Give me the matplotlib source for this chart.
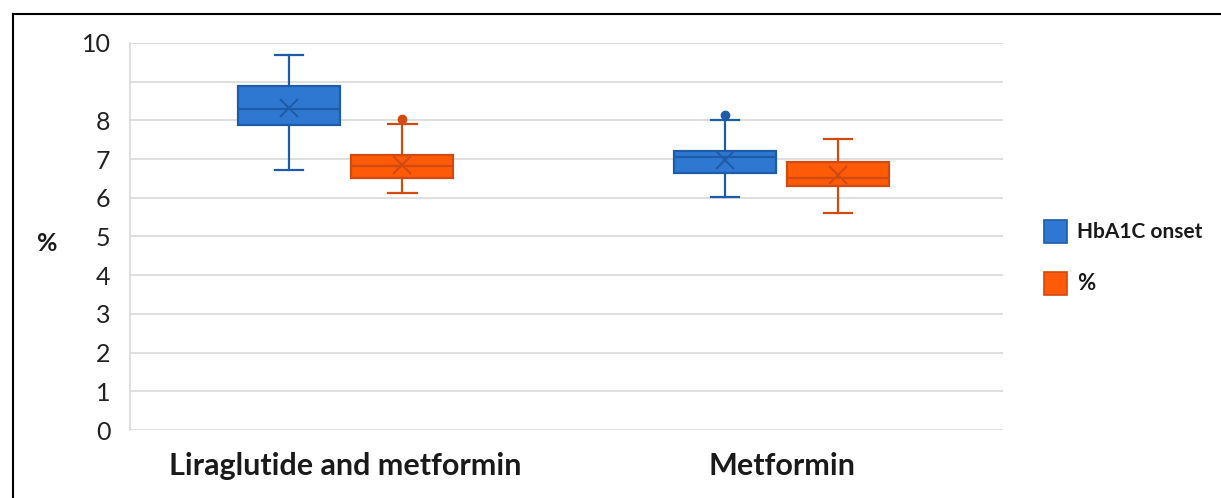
import matplotlib
matplotlib.use("Agg")
import matplotlib.pyplot as plt
from matplotlib.patches import Rectangle
from matplotlib.lines import Line2D

plt.rcParams['font.family'] = ['Lato', 'DejaVu Sans']

# ---- data ----
categories = ["Liraglutide and metformin", "Metformin"]
series_names = ["HbA1C onset", "%"]
# per series, per category: [whislo, q1, med, q3, whishi]
hba1c_five = [[6.71, 7.89, 8.30, 8.90, 9.69],
              [6.01, 6.64, 7.05, 7.21, 8.00]]
pct_five = [[6.12, 6.50, 6.82, 7.11, 7.90],
            [5.62, 6.30, 6.52, 6.92, 7.51]]
hba1c_mean = [8.33, 6.98]
pct_mean = [6.85, 6.59]
hba1c_fliers = [[], [8.14]]
pct_fliers = [[8.03], []]
ytick_vals = [0, 1, 2, 3, 4, 5, 6, 7, 8, 10]
ytick_labels = ["0", "1", "2", "3", "4", "5", "6", "7", "8", "10"]

fills = ["#2E78D2", "#FF5A08"]
edges = ["#1F5CA8", "#D04A12"]

W, H = 1221, 498
fig = plt.figure(figsize=(W / 100, H / 100), dpi=100)
ax = fig.add_axes([130 / W, (H - 430) / H, (1003 - 130) / W, (430 - 43) / H])

offset = 0.13
bw = 0.234
capw = 0.065
for s, (five, means, fliers) in enumerate([(hba1c_five, hba1c_mean, hba1c_fliers),
                                           (pct_five, pct_mean, pct_fliers)]):
    stats = []
    for c in range(len(categories)):
        lo, q1, med, q3, hi = five[c]
        stats.append(dict(whislo=lo, q1=q1, med=med, q3=q3, whishi=hi,
                          mean=means[c], fliers=fliers[c]))
    pos = [c + (offset if s else -offset) for c in range(len(categories))]
    ax.bxp(stats, positions=pos, widths=bw, capwidths=capw, patch_artist=True,
           showmeans=True, showfliers=True,
           boxprops=dict(facecolor=fills[s], edgecolor=edges[s], linewidth=1.6),
           medianprops=dict(color=edges[s], linewidth=1.6),
           whiskerprops=dict(color=edges[s], linewidth=1.6),
           capprops=dict(color=edges[s], linewidth=1.6),
           meanprops=dict(marker='x', markeredgecolor=edges[s], markersize=13,
                          markeredgewidth=1.5, linestyle='none'),
           flierprops=dict(marker='o', markerfacecolor=edges[s],
                           markeredgecolor=edges[s], markersize=6))

ax.set_xlim(-0.495, 1.508)
ax.set_ylim(0, 10)
ax.set_yticks(range(0, 11))
ax.set_yticklabels([ytick_labels[ytick_vals.index(v)] if v in ytick_vals else "" for v in range(11)],
                   fontsize=18, color="#222222")
ax.tick_params(axis='y', length=0, pad=14)
ax.set_xticks(range(len(categories)))
ax.set_xticklabels(categories, fontsize=22, fontweight='bold', color="#1a1a1a")
ax.tick_params(axis='x', length=0, pad=16)
ax.grid(axis='y', color="#D9D9D9", linewidth=1.2)
ax.set_axisbelow(True)
for side in ['top', 'right', 'bottom']:
    ax.spines[side].set_visible(False)
ax.spines['left'].set_color("#D9D9D9")
ax.spines['left'].set_linewidth(1.2)

fig.text(47 / W, 1 - 243 / H, "%", fontsize=18, fontweight='bold', ha='center', va='center',
         color="#1a1a1a")

# legend
leg_y = [232, 284]
for i, name in enumerate(series_names):
    fig.patches.append(Rectangle((1044 / W, 1 - (leg_y[i] + 11) / H), 23 / W, 23 / H,
                                 transform=fig.transFigure, facecolor=fills[i],
                                 edgecolor=edges[i], linewidth=1.2))
    fig.text(1077 / W, 1 - leg_y[i] / H, name, fontsize=15 if i == 0 else 16,
             fontweight='bold', va='center', ha='left', color="#1a1a1a")

# outer frame (top and left)
fig.add_artist(Line2D([13 / W, 1], [1 - 14 / H, 1 - 14 / H], transform=fig.transFigure,
                      color="black", linewidth=1.5))
fig.add_artist(Line2D([13 / W, 13 / W], [0, 1 - 14 / H], transform=fig.transFigure,
                      color="black", linewidth=1.5))

fig.savefig("out.png", dpi=100, facecolor="white")
